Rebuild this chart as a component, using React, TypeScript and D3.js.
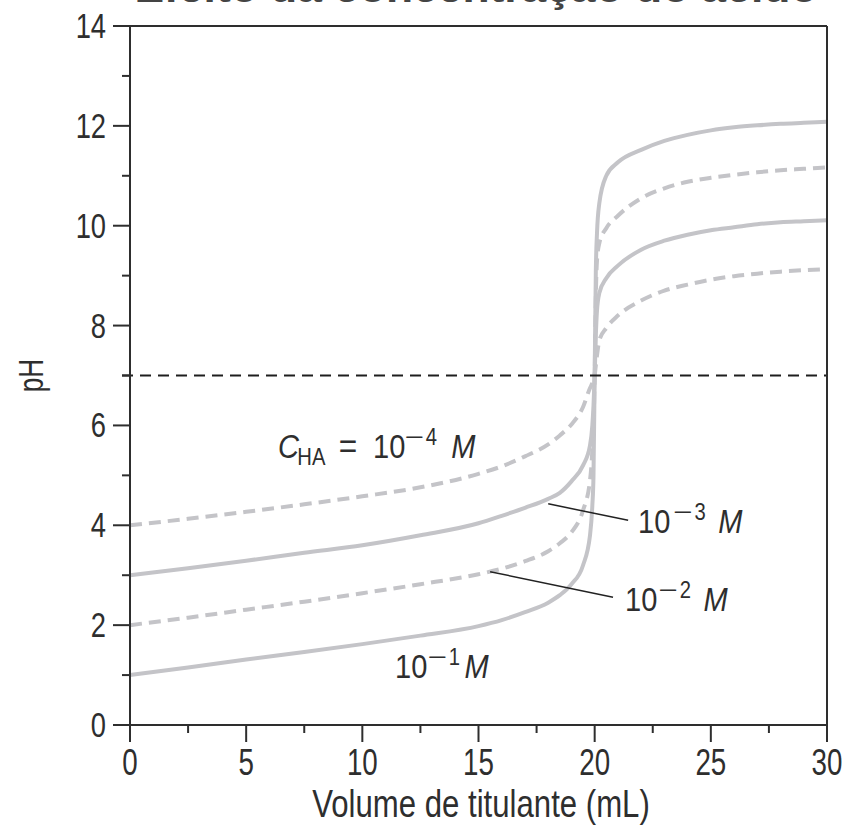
import { useMemo } from "react";
import * as d3 from "d3";

// titrant volume (mL), shared by all four curves
const volumes = [0, 2.5, 5, 7.5, 10, 12.5, 15, 16, 17, 18, 18.5, 19, 19.5, 19.8, 19.9, 19.95, 20, 20.05, 20.1, 20.2, 20.5, 21, 22, 23, 24, 25, 26, 27, 28, 29, 30];

// pH for each acid concentration
const ph1 = [1.0, 1.15, 1.31, 1.46, 1.62, 1.79, 1.98, 2.1, 2.26, 2.45, 2.6, 2.82, 3.2, 3.8, 4.4, 5.0, 7.0, 9.1, 9.85, 10.45, 11.0, 11.27, 11.52, 11.7, 11.82, 11.91, 11.97, 12.01, 12.04, 12.06, 12.08];
const ph2 = [2.0, 2.15, 2.31, 2.47, 2.64, 2.82, 3.02, 3.13, 3.28, 3.48, 3.64, 3.86, 4.3, 4.9, 5.5, 6.0, 7.0, 8.6, 9.3, 9.65, 9.95, 10.2, 10.55, 10.75, 10.88, 10.96, 11.02, 11.07, 11.11, 11.14, 11.17];
const ph3 = [3.0, 3.14, 3.29, 3.45, 3.6, 3.8, 4.04, 4.19, 4.35, 4.53, 4.65, 4.88, 5.2, 5.6, 6.0, 6.4, 7.0, 7.8, 8.3, 8.65, 8.95, 9.2, 9.52, 9.7, 9.82, 9.91, 9.97, 10.03, 10.07, 10.09, 10.11];
const ph4 = [4.0, 4.13, 4.27, 4.42, 4.58, 4.76, 5.03, 5.18, 5.38, 5.62, 5.8, 6.02, 6.37, 6.75, 6.85, 6.92, 7.0, 7.2, 7.4, 7.7, 7.95, 8.2, 8.5, 8.7, 8.82, 8.92, 8.99, 9.04, 9.08, 9.11, 9.13];

const seriesNames = ["1e-1", "1e-2", "1e-3", "1e-4"];
const seriesValues = [ph1, ph2, ph3, ph4];
const seriesDashed = [false, true, false, true];

const xTicks = [0, 5, 10, 15, 20, 25, 30];
const xMinor = [2.5, 7.5, 12.5, 17.5, 22.5, 27.5];
const yTicks = [0, 2, 4, 6, 8, 10, 12, 14];
const yMinor = [1, 3, 5, 7, 9, 11, 13];

// label anchors in data units [mL, pH]
const labelCHA = [6.37, 5.35];
const label3 = [21.87, 3.85];
const label2 = [21.31, 2.28];
const label1 = [11.41, 0.94];
const leader3 = [[18.0, 4.43], [21.44, 4.1]];
const leader2 = [[15.5, 3.07], [20.79, 2.56]];

const W = 844;
const H = 831;
const FONT = "'Liberation Sans', Arial, sans-serif";
const INK = "#2e2e2e";
const CURVE = "#c4c4c8";

// narrow text: Liberation Sans squeezed horizontally
const NText = ({ x, y, sx = 0.78, size = 35, anchor = "start", rotate = 0, children }: any) => (
  <text
    transform={`translate(${x},${y})${rotate ? ` rotate(${rotate})` : ""} scale(${sx},1)`}
    textAnchor={anchor}
    fontSize={size}
    fill={INK}
  >
    {children}
  </text>
);

// "10^-n M" label, minus drawn long like the original typesetting
const Pow = ({ at, exp, xSup, xM }: any) => (
  <NText x={at[0]} y={at[1]} sx={0.88} size={33}>
    <tspan x={0} y={0}>10</tspan>
    <tspan x={xSup} y={-13} fontSize={23} textLength={22} lengthAdjust="spacingAndGlyphs">{"\u2212"}</tspan>
    <tspan x={xSup + 24} y={-13} fontSize={23}>{exp}</tspan>
    <tspan x={xM} y={0} fontStyle="italic">M</tspan>
  </NText>
);

export default function App() {
  const x = d3.scaleLinear().domain([0, 30]).range([130, 827]);
  const y = d3.scaleLinear().domain([0, 14]).range([725, 26]);

  const line = useMemo(
    () =>
      d3
        .line<number[]>()
        .x((d) => x(d[0]))
        .y((d) => y(d[1]))
        .curve(d3.curveMonotoneX),
    []
  );

  const lw = 2;
  const pt = (d: number[]) => [x(d[0]), y(d[1])];

  return (
    <div style={{ position: "absolute", left: 0, top: 0 }}>
      <svg width={W} height={H} style={{ display: "block", fontFamily: FONT }}>
        <rect width={W} height={H} fill="#fff" />

        {/* title, cut off at the top edge */}
        <text x={476} y={2} textAnchor="middle" fontWeight="bold" fontSize={40} fill="#444" textLength={683} lengthAdjust="spacingAndGlyphs">
          Efeito da concentração do ácido
        </text>

        {/* curves */}
        {seriesValues.map((vals, i) => (
          <path
            key={seriesNames[i]}
            d={line(volumes.map((v, j) => [v, vals[j]])) || ""}
            fill="none"
            stroke={CURVE}
            strokeWidth={4}
            strokeDasharray={seriesDashed[i] ? "12 7" : undefined}
          />
        ))}

        {/* pH 7 reference */}
        <line x1={x(0) - 8} x2={x(30)} y1={y(7)} y2={y(7)} stroke="#1e1e1e" strokeWidth={2} strokeDasharray="11 7" />

        {/* frame */}
        <line x1={x(0) - 17} x2={x(30)} y1={y(14)} y2={y(14)} stroke={INK} strokeWidth={lw} />
        <line x1={x(30)} x2={x(30)} y1={y(14)} y2={y(0) + 17} stroke={INK} strokeWidth={lw} />
        <line x1={x(0)} x2={x(0)} y1={y(14)} y2={y(0) + 17} stroke={INK} strokeWidth={lw} />
        <line x1={x(0) - 17} x2={x(30)} y1={y(0)} y2={y(0)} stroke={INK} strokeWidth={lw} />

        {/* y ticks */}
        {yTicks.map((t) => (
          <g key={"y" + t}>
            <line x1={x(0) - 17} x2={x(0)} y1={y(t)} y2={y(t)} stroke={INK} strokeWidth={lw} />
            <NText x={106} y={y(t) + 12} anchor="end">{t}</NText>
          </g>
        ))}
        {yMinor.map((t) => (
          <line key={"ym" + t} x1={x(0) - 8} x2={x(0)} y1={y(t)} y2={y(t)} stroke={INK} strokeWidth={lw} />
        ))}

        {/* x ticks */}
        {xTicks.map((t) => (
          <g key={"x" + t}>
            <line x1={x(t)} x2={x(t)} y1={y(0)} y2={y(0) + 17} stroke={INK} strokeWidth={lw} />
            <NText x={x(t)} y={775} anchor="middle" size={37} sx={0.75}>{t}</NText>
          </g>
        ))}
        {xMinor.map((t) => (
          <line key={"xm" + t} x1={x(t)} x2={x(t)} y1={y(0)} y2={y(0) + 8} stroke={INK} strokeWidth={lw} />
        ))}

        {/* axis titles */}
        <NText x={481} y={817} anchor="middle" size={38} sx={0.82}>Volume de titulante (mL)</NText>
        <NText x={43} y={y(7)} anchor="middle" size={35} sx={0.75} rotate={-90}>pH</NText>

        {/* leader lines */}
        {[leader3, leader2].map((l, i) => {
          const [a, b] = [pt(l[0]), pt(l[1])];
          return <line key={"ld" + i} x1={a[0]} y1={a[1]} x2={b[0]} y2={b[1]} stroke="#222" strokeWidth={1.5} />;
        })}

        {/* curve labels */}
        <NText x={x(labelCHA[0])} y={y(labelCHA[1])} sx={0.88} size={33}>
          <tspan x={0} y={0} fontStyle="italic">C</tspan>
          <tspan x={22} y={7} fontSize={23}>HA</tspan>
          <tspan x={69} y={0} fontSize={36}>=</tspan>
          <tspan x={108} y={0}>10</tspan>
          <tspan x={144} y={-13} fontSize={23} textLength={22} lengthAdjust="spacingAndGlyphs">{"\u2212"}</tspan>
          <tspan x={168} y={-13} fontSize={23}>4</tspan>
          <tspan x={197} y={0} fontStyle="italic">M</tspan>
        </NText>
        <Pow at={pt(label3)} exp="3" xSup={40} xM={91} />
        <Pow at={pt(label2)} exp="2" xSup={38} xM={89} />
        <Pow at={pt(label1)} exp="1" xSup={37} xM={79} />
      </svg>
    </div>
  );
}
